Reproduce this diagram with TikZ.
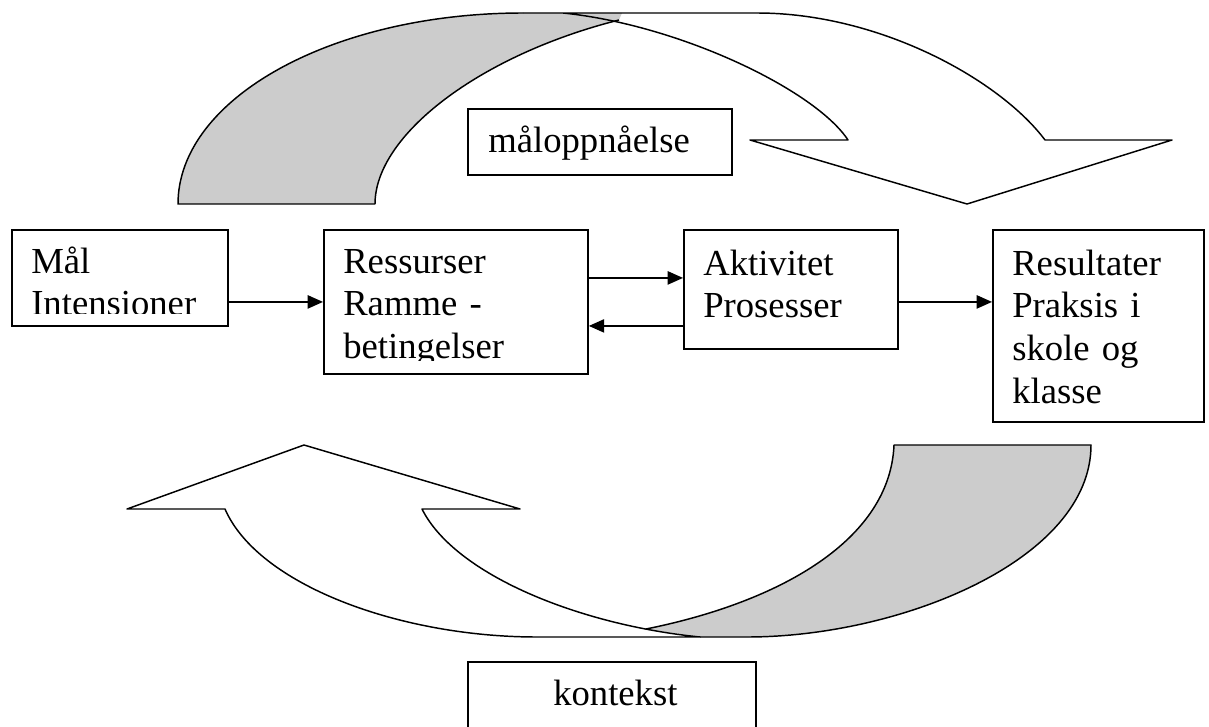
\documentclass[tikz,border=0pt]{standalone}
\usepackage{fontspec}
\setmainfont{Liberation Serif}
\usetikzlibrary{arrows.meta}

\tikzset{
  box/.style={draw, line width=1.4pt, anchor=north west, inner sep=0pt},
  txt/.style={anchor=base west, inner sep=0pt, align=left, text width=170pt,
    font=\fontsize{27.5}{32}\selectfont},
  conn/.style={line width=1pt, -{Triangle[length=11.5pt,width=10pt]}},
  band/.style={line width=1.1pt, line join=round},
  backband/.style={fill=gray!40},
}

\begin{document}
\begin{tikzpicture}[x=0.75pt, y=-0.75pt]
  \clip (0,0) rectangle (1209,727);
  \node[box, minimum width=162pt, minimum height=72pt] (mal) at (11,229) {};
  \node[box, minimum width=198pt, minimum height=108pt] (ress) at (323,229) {};
  \node[box, minimum width=160.5pt, minimum height=89.25pt] (akt) at (683,229) {};
  \node[box, minimum width=158.25pt, minimum height=144pt] (resu) at (992,229) {};
  \node[box, minimum width=198pt, minimum height=49.5pt] (maal) at (467,108) {};
  \node[box, minimum width=216pt, minimum height=75pt] (kont) at (467,661) {};
  \begin{scope}
    \clip (11,229) rectangle (227,313);
    \node[txt] (malT) at (31,273) {Mål\\Intensioner};
  \end{scope}
  \begin{scope}
    \clip (323,229) rectangle (587,360);
    \node[txt] (ressT) at (343,273) {Ressurser\\Ramme -\\betingelser};
  \end{scope}
  \node[txt] (aktT) at (703,275) {Aktivitet\\Prosesser};
  \node[txt] (resuT) at (1012,275) {Resultater\\Praksis i\\skole og\\klasse};
  \node[txt] (maalT) at (488,153) {måloppnåelse};
  \node[txt] (kontT) at (553,705) {kontekst};

  \draw[conn] (mal.east |- ress.west) -- (ress.west);
  \draw[conn] ([yshift=18pt]ress.east) -- ([yshift=18pt]ress.east -| akt.west);
  \draw[conn] ([yshift=-18pt]ress.east -| akt.west) -- ([yshift=-18pt]ress.east);
  \draw[conn] (akt.east |- ress.east) -- (resu.west |- ress.east);

  \fill[backband] (178,204) .. controls (178,98.5) and (332.5,13) .. (523,13)
    -- (622,13) -- (619,20) .. controls (480,55) and (375,135) .. (375,204) -- cycle;
  \draw[band] (523,13) -- (757,13) .. controls (880,13) and (1000,80) .. (1045,140)
    -- (1172,140) -- (967,204) -- (750,140) -- (848,140)
    .. controls (815,90) and (680,25) .. (563,13);
  \draw[band] (523,13) .. controls (332.5,13) and (178,98.5) .. (178,204) -- (375,204)
    .. controls (375,135) and (480,55) .. (619,20);

  \fill[backband] (894,445) -- (1091,445) .. controls (1091,560) and (900,637) .. (747,637)
    -- (700,637) -- (646,629) .. controls (780,602) and (890,540) .. (894,445) -- cycle;
  \draw[band] (225,509) -- (127,509) -- (304,445) -- (520,509) -- (422,509)
    .. controls (455,575) and (580,625) .. (700,637) -- (537,637)
    .. controls (400,637) and (258,585) .. (225,509) -- cycle;
  \draw[band] (646,629) .. controls (780,602) and (890,540) .. (894,445) -- (1091,445)
    .. controls (1091,560) and (900,637) .. (747,637) -- (700,637);
\end{tikzpicture}
\end{document}
